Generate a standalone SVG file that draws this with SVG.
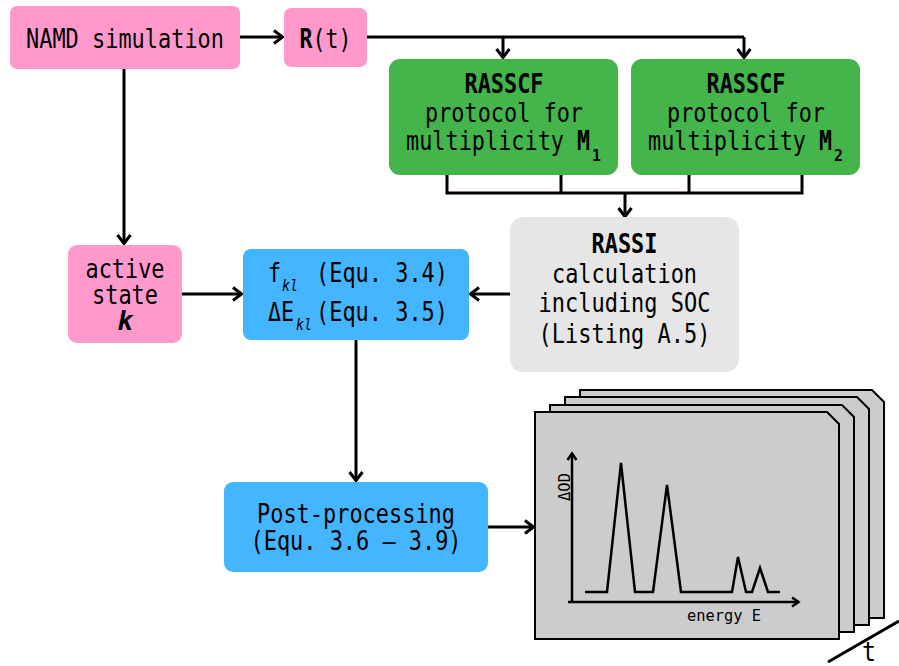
<svg xmlns="http://www.w3.org/2000/svg" width="899" height="666" viewBox="0 0 899 666">
<defs>
<style>
.t{font-family:"DejaVu Sans Mono","Liberation Mono",monospace;font-size:26px;fill:#000}
.m{text-anchor:middle}
.b{font-weight:bold}
.sub{font-family:"DejaVu Sans Mono","Liberation Mono",monospace;font-size:16px;fill:#000}
.pink{fill:#ff99cc}
.green{fill:#44b54b}
.blue{fill:#44b5ff}
.grey{fill:#e6e6e6}
.frame{fill:#cccccc;stroke:#000;stroke-width:2}
.c{fill:none;stroke:#000;stroke-width:3}
.ax{fill:none;stroke:#000;stroke-width:2.5}
.small{font-family:"DejaVu Sans Mono","Liberation Mono",monospace;font-size:15px;fill:#000}
</style>
<marker id="ah" viewBox="0 0 14 16" refX="12" refY="8" markerWidth="14" markerHeight="16" markerUnits="userSpaceOnUse" orient="auto">
<path d="M3,1.5 L11.5,8 L3,14.5" fill="none" stroke="#000" stroke-width="3"/>
</marker>
<marker id="ah2" viewBox="0 0 12 12" refX="10" refY="6" markerWidth="12" markerHeight="12" markerUnits="userSpaceOnUse" orient="auto">
<path d="M3,1.5 L9.5,6 L3,10.5" fill="none" stroke="#000" stroke-width="2.5"/>
</marker>
</defs>
<rect width="899" height="666" fill="#fff"/>

<g id="connectors">
<path class="c" d="M240,37 H283" marker-end="url(#ah)"/>
<path class="c" d="M367,37 H744"/>
<path class="c" d="M503,37 V58" marker-end="url(#ah)"/>
<path class="c" d="M744,37 V58" marker-end="url(#ah)"/>
<path class="c" d="M447,174 V193 H802 V174"/>
<path class="c" d="M561,174 V193"/>
<path class="c" d="M689,174 V193"/>
<path class="c" d="M625,193 V217" marker-end="url(#ah)"/>
<path class="c" d="M510,294 H470" marker-end="url(#ah)"/>
<path class="c" d="M182,294 H242" marker-end="url(#ah)"/>
<path class="c" d="M124,69 V244" marker-end="url(#ah)"/>
<path class="c" d="M356,340 V481" marker-end="url(#ah)"/>
<path class="c" d="M488,527 H534" marker-end="url(#ah)"/>
</g>

<g id="namd">
<rect class="pink" x="10" y="6" width="230" height="63" rx="7"/>
<text class="t m" x="125" y="48" textLength="198" lengthAdjust="spacingAndGlyphs">NAMD simulation</text>
</g>

<g id="rt">
<rect class="pink" x="284" y="8" width="83" height="59" rx="7"/>
<text class="t m" x="325.5" y="48" textLength="52" lengthAdjust="spacingAndGlyphs"><tspan class="b">R</tspan>(t)</text>
</g>

<g id="rasscf1">
<rect class="green" x="389" y="59" width="229" height="116" rx="11"/>
<text class="t m b" x="504" y="93" textLength="79" lengthAdjust="spacingAndGlyphs">RASSCF</text>
<text class="t m" x="504" y="122" textLength="158" lengthAdjust="spacingAndGlyphs">protocol for</text>
<text class="t" x="406" y="150" textLength="158" lengthAdjust="spacingAndGlyphs">multiplicity</text>
<text class="t b" x="577" y="150" textLength="13" lengthAdjust="spacingAndGlyphs">M</text>
<text class="sub b" x="592" y="161" textLength="9" lengthAdjust="spacingAndGlyphs">1</text>
</g>

<g id="rasscf2">
<rect class="green" x="631" y="59" width="229" height="116" rx="11"/>
<text class="t m b" x="746" y="93" textLength="79" lengthAdjust="spacingAndGlyphs">RASSCF</text>
<text class="t m" x="746" y="122" textLength="158" lengthAdjust="spacingAndGlyphs">protocol for</text>
<text class="t" x="648" y="150" textLength="158" lengthAdjust="spacingAndGlyphs">multiplicity</text>
<text class="t b" x="819" y="150" textLength="13" lengthAdjust="spacingAndGlyphs">M</text>
<text class="sub b" x="834" y="161" textLength="9" lengthAdjust="spacingAndGlyphs">2</text>
</g>

<g id="rassi">
<rect class="grey" x="510" y="217" width="229" height="155" rx="13"/>
<text class="t m b" x="624.5" y="253" textLength="66" lengthAdjust="spacingAndGlyphs">RASSI</text>
<text class="t m" x="624.5" y="283" textLength="145" lengthAdjust="spacingAndGlyphs">calculation</text>
<text class="t m" x="624.5" y="312" textLength="172" lengthAdjust="spacingAndGlyphs">including SOC</text>
<text class="t m" x="624.5" y="343" textLength="172" lengthAdjust="spacingAndGlyphs">(Listing A.5)</text>
</g>

<g id="active">
<rect class="pink" x="68" y="245" width="114" height="98" rx="9"/>
<text class="t m" x="125" y="278" textLength="79" lengthAdjust="spacingAndGlyphs">active</text>
<text class="t m" x="125" y="304" textLength="66" lengthAdjust="spacingAndGlyphs">state</text>
<text class="t m b" x="125" y="330" font-style="italic">k</text>
</g>

<g id="fkl">
<rect class="blue" x="243" y="249" width="226" height="91" rx="8"/>
<text class="t" x="268" y="282" textLength="13" lengthAdjust="spacingAndGlyphs">f</text>
<text class="sub" x="282" y="291" font-style="italic" textLength="16" lengthAdjust="spacingAndGlyphs">kl</text>
<text class="t" x="316" y="282" textLength="132" lengthAdjust="spacingAndGlyphs">(Equ. 3.4)</text>
<text class="t" x="268" y="321" textLength="26" lengthAdjust="spacingAndGlyphs">ΔE</text>
<text class="sub" x="296" y="330" font-style="italic" textLength="16" lengthAdjust="spacingAndGlyphs">kl</text>
<text class="t" x="316" y="321" textLength="132" lengthAdjust="spacingAndGlyphs">(Equ. 3.5)</text>
</g>

<g id="post">
<rect class="blue" x="224" y="482" width="264" height="90" rx="9"/>
<text class="t m" x="356" y="523" textLength="198" lengthAdjust="spacingAndGlyphs">Post-processing</text>
<text class="t m" x="356" y="550" textLength="211" lengthAdjust="spacingAndGlyphs">(Equ. 3.6 – 3.9)</text>
</g>

<g id="plots">
<path class="frame" d="M580,390 H872 L884,402 V618 H580 Z"/>
<path class="frame" d="M565,397 H857 L869,409 V625 H565 Z"/>
<path class="frame" d="M550,405 H842 L854,417 V632 H550 Z"/>
<path class="frame" d="M535,412 H827 L839,424 V639 H535 Z"/>
<path class="ax" d="M572,602 V453" marker-end="url(#ah2)"/>
<path class="ax" d="M568,602 H799" marker-end="url(#ah2)"/>
<polyline class="ax" points="585,592 607,592 621,463 635,592 653,592 667,485 681,592 732,592 738,557 746,592 752,592 760,568 768,592 780,592"/>
<text class="small m" transform="translate(570,487) rotate(-90)" textLength="28" lengthAdjust="spacingAndGlyphs">ΔOD</text>
<text class="small" x="687" y="621" textLength="74" lengthAdjust="spacingAndGlyphs">energy E</text>
<path class="c" d="M828,662 L899,621"/>
<text class="t m" x="869" y="661" font-size="23" textLength="14" lengthAdjust="spacingAndGlyphs">t</text>
</g>
</svg>
